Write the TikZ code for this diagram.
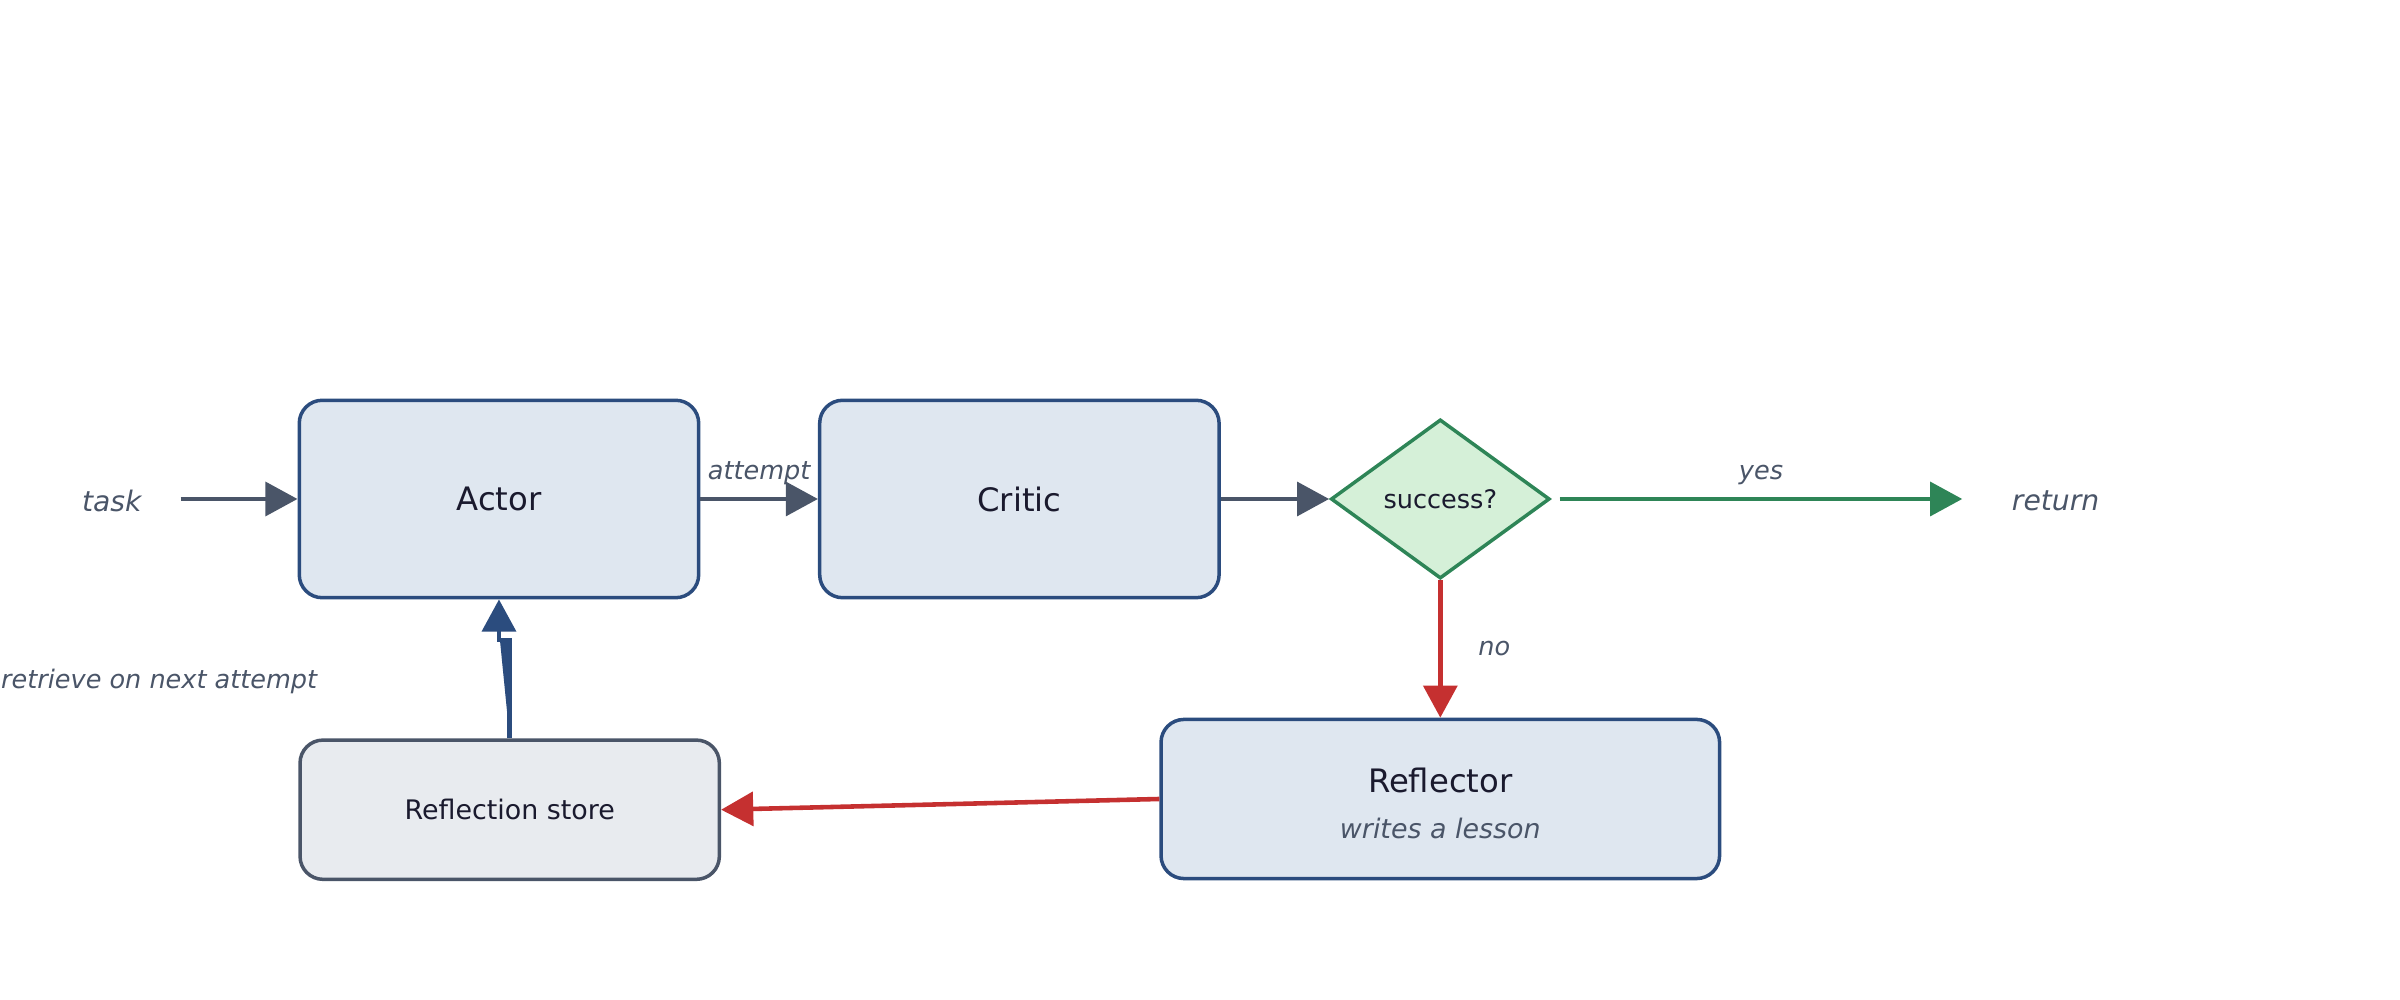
\documentclass[tikz,border=0pt]{standalone}
\usepackage{fontspec}
\setmainfont{DejaVu Sans}
\usetikzlibrary{arrows.meta,shapes.geometric}
\definecolor{boxfill}{HTML}{DFE7F0}
\definecolor{boxline}{HTML}{2B4C7E}
\definecolor{ink}{HTML}{1A1A2E}
\definecolor{mute}{HTML}{4A5568}
\definecolor{okgreen}{HTML}{2E8557}
\definecolor{okfill}{HTML}{D5F0D8}
\definecolor{nored}{HTML}{C53030}
\definecolor{storefill}{HTML}{E8EBEF}
\begin{document}
\begin{tikzpicture}[x=0.02cm,y=-0.02cm,
  >={Triangle[length=0.42cm,width=0.44cm]},
  stage/.style={draw=boxline,fill=boxfill,line width=1.3pt,rounded corners=0.3cm,
    text=ink,font=\fontsize{12}{14}\selectfont},
  label/.style={text=mute,font=\fontsize{9.5}{11}\selectfont\itshape},
  flow/.style={->,line width=1.7pt,draw=mute}]

\useasboundingbox (0,0) rectangle (1568,653);

% stages
\node[stage,minimum width=5.22cm,minimum height=2.58cm] (actor) at (326,326) {Actor};
\node[stage,minimum width=5.22cm,minimum height=2.58cm] (critic) at (666,326) {Critic};
\node[draw=okgreen,fill=okfill,line width=1.3pt,diamond,aspect=1.375,
  minimum width=2.86cm,minimum height=2.08cm,inner sep=0pt,text=ink,
  font=\fontsize{9.5}{11}\selectfont] (check) at (941,326) {success?};
\node[stage,minimum width=7.3cm,minimum height=2.08cm] (reflector) at (941,522) {};
\node[text=ink,font=\fontsize{12}{14}\selectfont] (rtitle) at (941,510) {Reflector};
\node[label,font=\fontsize{10}{12}\selectfont\itshape] (rsub) at (941,541) {writes a lesson};
\node[draw=mute,fill=storefill,line width=1.3pt,rounded corners=0.3cm,text=ink,
  minimum width=5.48cm,minimum height=1.82cm,font=\fontsize{10}{12}\selectfont]
  (store) at (333,529) {Reflection store};

% terminals
\node[label,font=\fontsize{10.5}{12}\selectfont\itshape] (task) at (73,327) {task};
\node[label,font=\fontsize{10.5}{12}\selectfont\itshape] (ret) at (1343,327) {return};
\coordinate (taskend) at (118,326);
\coordinate (yesstart) at (1019,326);
\coordinate (yesend) at (1282,326);

% flow
\draw[flow] (taskend) -- (actor.west);
\draw[flow] (actor.east) -- node[label,above=1pt] {attempt} (critic.west);
\draw[flow] (critic.east) -- (check.west);
\draw[flow,draw=okgreen,fill=okgreen] (yesstart) -- node[label,above=1pt] {yes} (yesend);
\draw[flow,draw=nored,fill=nored] (check.south) -- node[label,right=10pt] {no} (reflector.north);
\draw[flow,draw=nored,fill=nored] (reflector.west) -- (store.east);
\draw[flow,draw=boxline,fill=boxline] (store.north) -- (333,418) -- (326,418) -- (actor.south);
\node[label] (retrieve) at (104,445) {retrieve on next attempt};

\end{tikzpicture}
\end{document}
